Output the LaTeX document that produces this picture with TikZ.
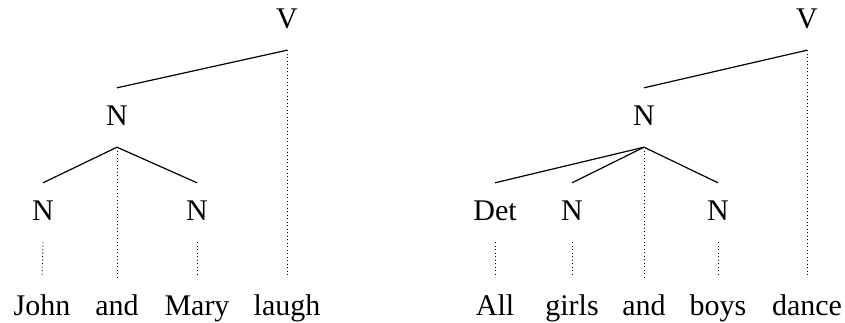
\documentclass[tikz,border=0pt]{standalone}
\usepackage{fontspec}
\setmainfont{Liberation Serif}
\begin{document}
\begin{tikzpicture}[x=1pt,y=-1pt,
  lbl/.style={inner xsep=0pt,inner ysep=17pt,text height=20pt,text depth=5pt,anchor=base,font=\fontsize{30}{35}\selectfont},
  wrd/.style={inner xsep=0pt,inner ysep=18pt,text height=20pt,text depth=5pt,anchor=base,font=\fontsize{30}{35}\selectfont},
  br/.style={line width=1.2pt},
  dt/.style={line width=0.9pt,dash pattern=on 0.9pt off 2.6pt}]
\useasboundingbox (0,0) rectangle (845,322);
% left tree
\node[lbl] (V1) at (287,28) {V};
\node[lbl] (N1) at (117,125) {N};
\node[lbl] (Na) at (43,220) {N};
\node[lbl] (Nb) at (197,220) {N};
\node[wrd] (w1) at (42,315) {John};
\node[wrd] (w2) at (117,315) {and};
\node[wrd] (w3) at (197,315) {Mary};
\node[wrd] (w4) at (287,315) {laugh};
\draw[br] (V1.south) -- (N1.north);
\draw[br] (N1.south) -- (Na.north);
\draw[br] (N1.south) -- (Nb.north);
\draw[dt] (V1.south) -- (w4.north);
\draw[dt] (N1.south) -- (w2.north);
\draw[dt] (Na.south) -- (w1.north);
\draw[dt] (Nb.south) -- (w3.north);
% right tree
\node[lbl] (V2) at (807,28) {V};
\node[lbl] (N2) at (644,125) {N};
\node[lbl] (D2) at (495,220) {Det};
\node[lbl] (Nc) at (572,220) {N};
\node[lbl] (Nd) at (718,220) {N};
\node[wrd] (u1) at (495,315) {All};
\node[wrd] (u2) at (572,315) {girls};
\node[wrd] (u3) at (644,315) {and};
\node[wrd] (u4) at (718,315) {boys};
\node[wrd] (u5) at (807,315) {dance};
\draw[br] (V2.south) -- (N2.north);
\draw[br] (N2.south) -- (D2.north);
\draw[br] (N2.south) -- (Nc.north);
\draw[br] (N2.south) -- (Nd.north);
\draw[dt] (V2.south) -- (u5.north);
\draw[dt] (N2.south) -- (u3.north);
\draw[dt] (D2.south) -- (u1.north);
\draw[dt] (Nc.south) -- (u2.north);
\draw[dt] (Nd.south) -- (u4.north);
\end{tikzpicture}
\end{document}
